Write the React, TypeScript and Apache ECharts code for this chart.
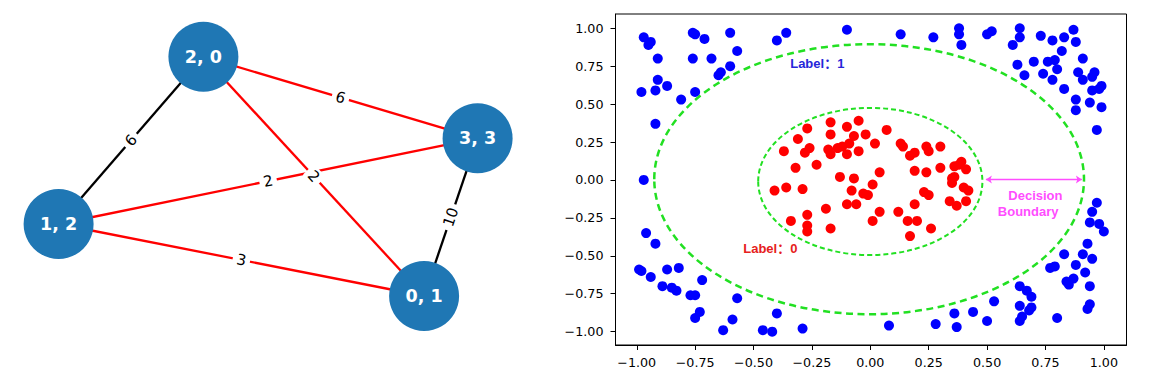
import React, { useEffect, useRef } from 'react';
import * as echarts from 'echarts';

// ---------- Graph (left) ----------
const nodeNames = ['0, 1', '1, 2', '2, 0', '3, 3'];
const nodeX = [424.1, 58.6, 203.4, 477.6];
const nodeY = [296, 224, 56.7, 138.3];
const edgeSource = ['2, 0', '2, 0', '1, 2', '1, 2', '1, 2', '3, 3'];
const edgeTarget = ['3, 3', '0, 1', '3, 3', '0, 1', '2, 0', '0, 1'];
const edgeWeight = [6, 2, 2, 3, 6, 10];
const edgeSelected = [true, true, true, true, false, false];

// ---------- Scatter (right) ----------
const ticks = [-1, -0.75, -0.5, -0.25, 0, 0.25, 0.5, 0.75, 1];

const bluePoints = [
  [-0.97, 0.94], [-0.94, 0.91], [-0.95, 0.89], [-0.91, 0.8], [-0.91, 0.66], [-0.92, 0.59],
  [-0.98, 0.58], [-0.87, 0.62], [-0.92, 0.37], [-0.97, 0.0], [-0.76, 0.97], [-0.75, 0.96],
  [-0.71, 0.93], [-0.6, 0.97], [-0.57, 0.85], [-0.76, 0.8], [-0.68, 0.8], [-0.65, 0.69],
  [-0.64, 0.71], [-0.6, 0.75], [-0.81, 0.53], [-0.75, 0.58], [-0.4, 0.92], [-0.36, 0.97],
  [-0.1, 0.99],
  [0.13, 0.96], [0.27, 0.94], [0.38, 1.0], [0.38, 0.96], [0.39, 0.89], [0.5, 0.96],
  [0.52, 0.98], [0.64, 1.0], [0.64, 0.94], [0.61, 0.89], [0.73, 0.95], [0.78, 0.92],
  [0.83, 0.94], [0.87, 0.99], [0.88, 0.91], [0.82, 0.85], [0.91, 0.8], [0.63, 0.76],
  [0.66, 0.69], [0.7, 0.78], [0.76, 0.78], [0.79, 0.79], [0.8, 0.73], [0.74, 0.7],
  [0.78, 0.66], [0.83, 0.6], [0.89, 0.71], [0.91, 0.66], [0.95, 0.68], [0.96, 0.71],
  [0.95, 0.59], [0.98, 0.6], [0.99, 0.62], [0.88, 0.53], [0.88, 0.46], [0.94, 0.51],
  [0.99, 0.48], [0.97, 0.33],
  [-0.96, -0.35], [-0.92, -0.42], [-0.99, -0.59], [-0.98, -0.6], [-0.94, -0.64], [-0.87, -0.59],
  [-0.82, -0.58], [-0.89, -0.7], [-0.85, -0.71], [-0.83, -0.73], [-0.77, -0.76], [-0.75, -0.76],
  [-0.72, -0.66], [-0.57, -0.78], [-0.73, -0.87], [-0.75, -0.91], [-0.59, -0.92], [-0.63, -0.99],
  [-0.46, -0.99], [-0.42, -1.0], [-0.4, -0.88], [-0.29, -0.98],
  [0.08, -0.96], [0.28, -0.95], [0.36, -0.88], [0.37, -0.97], [0.44, -0.87], [0.5, -0.93],
  [0.53, -0.8], [0.64, -0.7], [0.67, -0.73], [0.69, -0.77], [0.64, -0.83], [0.69, -0.84],
  [0.68, -0.86], [0.65, -0.9], [0.64, -0.93], [0.8, -0.91], [0.77, -0.58], [0.79, -0.57],
  [0.83, -0.49], [0.85, -0.69], [0.87, -0.65], [0.84, -0.67], [0.88, -0.56], [0.92, -0.61],
  [0.91, -0.49], [0.93, -0.42], [0.95, -0.52], [0.94, -0.7], [0.94, -0.82], [0.93, -0.85],
  [0.97, -0.15], [0.95, -0.21], [0.94, -0.28], [0.98, -0.29], [1.0, -0.34],
];

const redPoints = [
  [-0.27, 0.34], [-0.31, 0.27], [-0.37, 0.19], [-0.28, 0.18], [-0.26, 0.21], [-0.32, 0.08],
  [-0.23, 0.1], [-0.17, 0.38], [-0.1, 0.35], [-0.05, 0.39], [-0.17, 0.3], [-0.07, 0.29],
  [-0.02, 0.3], [-0.18, 0.2], [-0.17, 0.17], [-0.14, 0.21], [-0.12, 0.22], [-0.09, 0.24],
  [-0.1, 0.17], [-0.05, 0.19], [0.02, 0.24], [-0.41, -0.07], [-0.36, -0.05], [-0.29, -0.06],
  [-0.13, 0.02], [-0.07, 0.01], [-0.08, -0.07], [-0.03, -0.09], [-0.01, -0.1], [0.01, -0.03],
  [-0.1, -0.16], [-0.06, -0.16], [-0.19, -0.19], [-0.27, -0.23], [-0.34, -0.27], [-0.27, -0.3],
  [-0.27, -0.34], [-0.17, -0.32], [0.01, -0.27],
  [0.07, 0.33], [0.13, 0.24], [0.14, 0.22], [0.17, 0.16], [0.19, 0.18], [0.24, 0.22],
  [0.25, 0.19], [0.3, 0.22], [0.04, 0.05], [0.19, 0.06], [0.24, 0.05], [0.3, 0.08],
  [0.38, 0.1], [0.39, 0.12], [0.41, 0.07], [0.36, 0.09], [0.35, 0.01], [0.36, 0.02],
  [0.35, -0.02], [0.4, -0.05], [0.42, -0.07], [0.23, -0.08], [0.25, -0.1], [0.19, -0.16],
  [0.34, -0.14], [0.37, -0.17], [0.41, -0.14], [0.04, -0.21], [0.12, -0.21], [0.16, -0.27],
  [0.2, -0.27], [0.26, -0.32], [0.17, -0.37],
];

// ellipse boundaries: [centerX, centerY, radiusX, radiusY]
const boundaryEllipses = [
  [0.0, -0.01, 0.48, 0.485],
  [-0.005, 0.005, 0.92, 0.89],
];

const annotationText = ['Label：1', 'Label：0', 'Decision', 'Boundary'];
const annotationX = [-0.227, -0.428, 0.707, 0.676];
const annotationY = [0.765, -0.455, -0.102, -0.209];

const arrowStart = [0.495, 0.003];
const arrowEnd = [0.906, 0.003];

const fmt = (v: number) => (v < 0 ? '\u2212' : '') + Math.abs(v).toFixed(2);

export default function App() {
  const ref = useRef<HTMLDivElement>(null);

  useEffect(() => {
    if (!ref.current) return;
    const chart = echarts.init(ref.current, undefined, { renderer: 'svg' });

    const pos: Record<string, number[]> = {};
    nodeNames.forEach((n, i) => (pos[n] = [nodeX[i], nodeY[i]]));

    const axisCommon = {
      type: 'value' as const,
      splitLine: { show: false },
      axisLine: { show: true, onZero: false, lineStyle: { color: '#000', width: 1 } },
      axisTick: { show: true, customValues: ticks, length: 5, lineStyle: { color: '#000', width: 1 } },
      axisLabel: {
        customValues: ticks,
        formatter: fmt,
        color: '#000',
        fontSize: 12.7,
        fontFamily: 'DejaVu Sans',
      },
    };

    const annColors = ['#2626d9', '#e62020', '#ff4dff', '#ff4dff'];
    const annSizes = [13, 13, 13, 13];

    chart.setOption({
      animation: false,
      backgroundColor: '#fff',
      grid: [
        {
          left: 615.5, right: 22.5, top: 14, bottom: 43,
          show: true, borderColor: '#000', borderWidth: 1, backgroundColor: 'transparent',
          containLabel: false, outerBoundsMode: 'none',
        },
        { left: 0, top: 0, width: 540, height: 388, containLabel: false, outerBoundsMode: 'none' },
      ],
      xAxis: [
        { ...axisCommon, gridIndex: 0, min: -1.091, max: 1.097, axisLabel: { ...axisCommon.axisLabel, margin: 11 } },
        { type: 'value', gridIndex: 1, min: 0, max: 540, show: false },
      ],
      yAxis: [
        { ...axisCommon, gridIndex: 0, min: -1.088, max: 1.094, axisLabel: { ...axisCommon.axisLabel, margin: 12 } },
        { type: 'value', gridIndex: 1, min: 0, max: 388, inverse: true, show: false },
      ],
      series: [
        // --- graph ---
        {
          type: 'graph',
          coordinateSystem: 'cartesian2d',
          xAxisIndex: 1,
          yAxisIndex: 1,
          symbol: 'circle',
          symbolSize: 70,
          itemStyle: { color: '#1f77b4', opacity: 1 },
          label: {
            show: true,
            position: 'inside',
            formatter: '{b}',
            color: '#fff',
            fontWeight: 'bold',
            fontSize: 17.5,
            fontFamily: 'DejaVu Sans',
          },
          lineStyle: { width: 2.3, opacity: 1, curveness: 0 },
          emphasis: { disabled: true },
          data: nodeNames.map((n, i) => ({ name: n, value: [nodeX[i], nodeY[i]] })),
          links: edgeSource.map((s, i) => ({
            source: s,
            target: edgeTarget[i],
            lineStyle: { color: edgeSelected[i] ? '#ff0000' : '#000000' },
          })),
          z: 2,
        },
        // --- edge labels ---
        {
          type: 'custom',
          xAxisIndex: 1,
          yAxisIndex: 1,
          z: 5,
          silent: true,
          data: edgeSource.map((s, i) => [pos[s][0], pos[s][1], pos[edgeTarget[i]][0], pos[edgeTarget[i]][1], edgeWeight[i]]),
          encode: { x: [0, 2], y: [1, 3] },
          renderItem: (params: any, api: any) => {
            const p1 = api.coord([api.value(0), api.value(1)]);
            const p2 = api.coord([api.value(2), api.value(3)]);
            let a = Math.atan2(p2[1] - p1[1], p2[0] - p1[0]);
            if (a > Math.PI / 2) a -= Math.PI;
            if (a < -Math.PI / 2) a += Math.PI;
            return {
              type: 'text',
              x: (p1[0] + p2[0]) / 2,
              y: (p1[1] + p2[1]) / 2,
              rotation: -a,
              style: {
                text: String(api.value(4)),
                fill: '#000',
                fontSize: 15,
                fontFamily: 'DejaVu Sans',
                align: 'center',
                verticalAlign: 'middle',
                backgroundColor: '#fff',
                padding: [1, 4],
                borderRadius: 4,
              },
            };
          },
        },
        // --- scatter points ---
        {
          type: 'scatter',
          xAxisIndex: 0,
          yAxisIndex: 0,
          symbolSize: 10,
          itemStyle: { color: '#0000ff', opacity: 1 },
          data: bluePoints,
          z: 2,
        },
        {
          type: 'scatter',
          xAxisIndex: 0,
          yAxisIndex: 0,
          symbolSize: 10,
          itemStyle: { color: '#ff0000', opacity: 1 },
          data: redPoints,
          z: 2,
        },
        // --- ellipses ---
        {
          type: 'custom',
          xAxisIndex: 0,
          yAxisIndex: 0,
          z: 3,
          silent: true,
          data: boundaryEllipses,
          encode: { x: 0, y: 1 },
          renderItem: (params: any, api: any) => {
            const c = api.coord([api.value(0), api.value(1)]);
            const s = api.size([api.value(2), api.value(3)]);
            const inner = params.dataIndex === 0;
            return {
              type: 'ellipse',
              shape: { cx: c[0], cy: c[1], rx: s[0], ry: s[1] },
              style: {
                fill: 'none',
                stroke: '#22e022',
                lineWidth: inner ? 2 : 2.5,
                lineDash: inner ? [5, 3] : [7, 4.5],
              },
            };
          },
        },
        // --- arrow ---
        {
          type: 'lines',
          coordinateSystem: 'cartesian2d',
          xAxisIndex: 0,
          yAxisIndex: 0,
          z: 4,
          symbol: ['arrow', 'arrow'],
          symbolSize: [6, 6],
          lineStyle: { color: '#ff4dff', width: 1.4, opacity: 1 },
          data: [{ coords: [arrowStart, arrowEnd] }],
        },
        // --- annotations ---
        {
          type: 'custom',
          xAxisIndex: 0,
          yAxisIndex: 0,
          z: 6,
          silent: true,
          data: annotationText.map((t, i) => [annotationX[i], annotationY[i], i]),
          encode: { x: 0, y: 1 },
          renderItem: (params: any, api: any) => {
            const c = api.coord([api.value(0), api.value(1)]);
            const i = params.dataIndex;
            return {
              type: 'text',
              x: c[0],
              y: c[1],
              style: {
                text: annotationText[i],
                fill: annColors[i],
                fontSize: annSizes[i],
                fontWeight: 'bold',
                fontFamily: '"Liberation Sans", "Noto Sans CJK SC", sans-serif',
                align: 'center',
                verticalAlign: 'middle',
              },
            };
          },
        },
      ],
    });

    return () => chart.dispose();
  }, []);

  return (
    <div
      ref={ref}
      style={{ position: 'fixed', left: 0, top: 0, width: 1149, height: 388, background: '#fff' }}
    />
  );
}
